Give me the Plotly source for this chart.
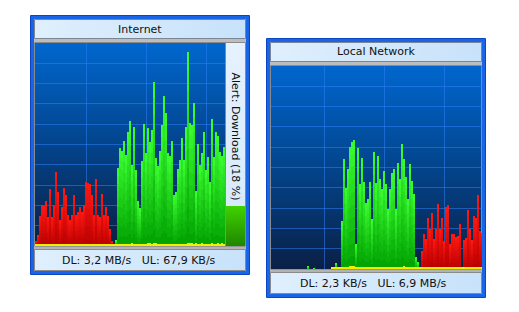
import base64
import plotly.graph_objects as go

# ---------------- data (bar heights, in plot pixels of a 203-px tall chart) -------------
# Internet widget: 95 columns
inet_red_start = 0
inet_red = [5, 11, 30, 41, 40, 45, 29, 57, 29, 41, 74, 54, 26, 39, 58, 51, 31, 26, 31, 51,
            31, 34, 39, 34, 41, 64, 63, 62, 51, 31, 67, 31, 29, 52, 31, 39, 30, 17, 5]
inet_green_start = 40
inet_green = [6, 78, 98, 95, 105, 91, 114, 125, 81, 119, 76, 45, 38, 85, 122, 93, 118, 104,
              116, 164, 88, 80, 95, 121, 150, 133, 93, 90, 105, 51, 54, 77, 86, 108, 86, 119,
              194, 123, 121, 143, 55, 102, 81, 93, 114, 76, 89, 64, 127, 89, 114, 110, 94, 90, 99]
inet_ul_start = 0
inet_ul = [1.5, 1.5, 1.5, 1.5, 1.5, 1.5, 1.5, 1.5, 1.5, 1.5,
           1.5, 1.5, 1.5, 1.5, 1.5, 1.5, 1.5, 1.5, 1.5, 1.5,
           1.5, 1.5, 1.5, 1.5, 1.5, 1.5, 1.5, 1.5, 1.5, 1.5,
           1.5, 1.5, 1.5, 1.5, 1.5, 1.5, 1.5, 1.5, 1.5, 1.5,
           1.5, 1.5, 1.5, 1.5, 1.5, 1.5, 1.5, 1.5, 3, 1.5,
           1.5, 1.5, 1.5, 1.5, 1.5, 1.5, 3, 3, 1.5, 3,
           3, 1.5, 1.5, 1.5, 1.5, 1.5, 1.5, 1.5, 1.5, 1.5,
           1.5, 1.5, 1.5, 1.5, 1.5, 1.5, 3, 3, 3, 1.5,
           3, 1.5, 1.5, 3, 1.5, 1.5, 1.5, 1.5, 3, 1.5,
           1.5, 3, 1.5, 3, 1.5]
inet_n = 95

# Local network widget: 106 columns
lan_green_start = 18
lan_green = [3, 0, 0, 1, 0, 0, 0, 0, 0, 0, 0, 0, 0, 0, 6, 0, 0,
             48, 110, 81, 100, 122, 127, 129, 25, 121, 85, 111, 87, 66, 70, 87, 50, 117, 86,
             113, 90, 80, 98, 85, 60, 80, 96, 100, 60, 106, 90, 125, 110, 92, 70, 105, 88,
             75, 12, 7, 2]
lan_red_start = 75
lan_red = [18, 35, 30, 51, 40, 56, 30, 40, 65, 40, 51, 28, 62, 64, 25, 35, 35, 32, 33, 45,
           2, 29, 31, 59, 40, 29, 53, 51, 74, 38, 36]
lan_ul_start = 30
lan_ul = [1.5, 1.5, 1.5, 1.5, 1.5, 1.5, 1.5, 1.5, 1.5, 3,
          3, 3, 1.5, 1.5, 1.5, 1.5, 1.5, 1.5, 1.5, 1.5,
          1.5, 1.5, 1.5, 1.5, 1.5, 1.5, 1.5, 1.5, 1.5, 1.5,
          1.5, 1.5, 1.5, 1.5, 1.5, 1.5, 3, 1.5, 1.5, 1.5,
          1.5, 1.5, 1.5, 1.5, 1.5, 1.5, 1.5, 1.5, 1.5, 1.5,
          1.5, 1.5, 1.5, 1.5, 1.5, 1.5, 1.5, 1.5, 1.5, 1.5,
          1.5, 1.5, 1.5, 1.5, 1.5, 1.5, 1.5, 1.5, 1.5, 1.5,
          1.5, 1.5, 1.5, 1.5, 1.5, 1.5]
lan_n = 106

titles = ["Internet", "Local Network"]
footers = ["DL: 3,2 MB/s\u00a0\u00a0\u00a0UL: 67,9 KB/s", "DL: 2,3 KB/s\u00a0\u00a0\u00a0UL: 6,9 MB/s"]
alert_text = "Alert: Download (18 %)"
alert_pct = 18

# ---------------- helpers ----------------
W, H = 519, 312
PLOT_H = 203.0


def fx(x):
    return x / W


def fy(y):
    return 1 - y / H


def mix(c1, c2, t):
    return "rgb(%d,%d,%d)" % tuple(round(a + (b - a) * t) for a, b in zip(c1, c2))


def grad_uri(stops, vertical=True):
    x2, y2 = ("0", "1") if vertical else ("1", "0")
    st = "".join('<stop offset="%s" stop-color="%s"/>' % (o, c) for o, c in stops)
    svg = ('<svg xmlns="http://www.w3.org/2000/svg" width="100" height="100" viewBox="0 0 100 100" '
           'preserveAspectRatio="none"><defs><linearGradient id="g" x1="0" y1="0" x2="%s" y2="%s">%s'
           '</linearGradient></defs><rect x="0" y="0" width="100" height="100" fill="url(#g)"/></svg>'
           % (x2, y2, st))
    return "data:image/svg+xml;base64," + base64.b64encode(svg.encode()).decode()


fig = go.Figure()

GREEN_LO, GREEN_HI = (0, 160, 0), (60, 255, 50)
RED_LO, RED_HI = (185, 0, 0), (255, 25, 20)
NB = 10


def add_series(vals, start, xa, ya, lo, hi):
    xs = list(range(start, start + len(vals)))
    for k in range(NB):
        col = mix(lo, hi, (k + 0.5) / NB)
        fig.add_trace(go.Bar(
            x=xs, y=[v / NB for v in vals], base=[v * k / NB for v in vals], width=1,
            marker=dict(color=col, line=dict(width=0)), xaxis=xa, yaxis=ya,
            hoverinfo="skip", showlegend=False))


def add_ul(vals, start, xa, ya):
    xs = list(range(start, start + len(vals)))
    fig.add_trace(go.Bar(x=xs, y=vals, base=[0] * len(vals), width=1,
                         marker=dict(color="#f4ee00", line=dict(width=0)),
                         xaxis=xa, yaxis=ya, hoverinfo="skip", showlegend=False))


add_series(inet_red, inet_red_start, "x", "y", RED_LO, RED_HI)
add_series(inet_green, inet_green_start, "x", "y", GREEN_LO, GREEN_HI)
add_ul(inet_ul, inet_ul_start, "x", "y")
add_series(lan_green, lan_green_start, "x2", "y2", GREEN_LO, GREEN_HI)
add_series(lan_red, lan_red_start, "x2", "y2", RED_LO, RED_HI)
add_ul(lan_ul, lan_ul_start, "x2", "y2")

# ---------------- widget chrome ----------------
shapes, images, annos = [], [], []
widgets = [(30, 15, True), (266, 38, False)]
footer_cx = [139, 373]

bg_stops = [("0", "#0067ce"), ("0.5", "#03448c"), ("1", "#0a2045")]
hdr_stops = [("0", "#dfeffd"), ("1", "#c7e2fa")]

for wi, (ox, oy, has_alert) in enumerate(widgets):
    def rect(x0, y0, x1, y1, **kw):
        d = dict(type="rect", xref="paper", yref="paper", layer="below",
                 x0=fx(ox + x0), x1=fx(ox + x1), y0=fy(oy + y0), y1=fy(oy + y1))
        d.update(kw)
        shapes.append(d)

    def img(x0, y0, x1, y1, uri):
        images.append(dict(source=uri, xref="paper", yref="paper", x=fx(ox + x0), y=fy(oy + y0),
                           sizex=(x1 - x0) / W, sizey=(y1 - y0) / H, xanchor="left",
                           yanchor="top", sizing="stretch", layer="below"))

    plot_r = 195 if has_alert else 216
    img(4, 4, 216, 24, grad_uri(hdr_stops, vertical=False))
    img(5, 28, plot_r, 231, grad_uri(bg_stops))
    if has_alert:
        img(196, 28, 216, 231, grad_uri([("0", "#e6f2fd"), ("1", "#d3e8fb")]))
        gh = PLOT_H * 0.197
        img(196, 231 - gh, 216, 231, grad_uri([("0", "#40d200"), ("1", "#1f8600")]))
    img(4, 234.5, 216, 256, grad_uri(hdr_stops, vertical=False))

    # frame
    rect(0.5, 0.5, 219.5, 259.5, line=dict(color="#0b45bf", width=1))
    rect(2.5, 2.5, 217.5, 257.5, line=dict(color="#1a64e8", width=3))
    # header outline & separators
    rect(4.5, 4.5, 215.5, 23.5, line=dict(color="#7b8594", width=1))
    rect(4, 24, 216, 27.5, fillcolor="#bdbdbd", line=dict(width=0))
    rect(4.5, 27.5, 215.5, 231.5, line=dict(color="#8a8a8a", width=1))
    if has_alert:
        rect(195.5, 28, 195.5, 231, line=dict(color="#8a8a8a", width=1))
    rect(4, 231.8, 216, 234.5, fillcolor="#b3b3b3", line=dict(width=0))
    rect(4.5, 234.5, 215.5, 255.5, line=dict(color="#8a8a8a", width=1))

    font = dict(family="DejaVu Sans", size=11, color="#111111")
    annos.append(dict(text=titles[wi], x=fx(ox + 110), y=fy(oy + 14), xref="paper", yref="paper",
                      showarrow=False, font=font, xanchor="center", yanchor="middle"))
    annos.append(dict(text=footers[wi], x=fx(footer_cx[wi]), y=fy(oy + 245.7), xref="paper",
                      yref="paper", showarrow=False, font=font, xanchor="center", yanchor="middle"))
    if has_alert:
        annos.append(dict(text=alert_text, x=fx(ox + 205.5), y=fy(136), xref="paper",
                          yref="paper", showarrow=False, font=font, textangle=90,
                          xanchor="center", yanchor="middle"))

grid = "rgba(45,125,245,0.55)"
axc = dict(showticklabels=False, ticks="", zeroline=False, showline=False, showgrid=True,
           gridcolor=grid, gridwidth=1, fixedrange=True)
ygrid = [PLOT_H - PLOT_H / 10 * k for k in range(1, 10)]

fig.update_layout(
    width=W, height=H, margin=dict(l=0, r=0, t=0, b=0), autosize=False,
    paper_bgcolor="white", plot_bgcolor="rgba(0,0,0,0)",
    barmode="overlay", bargap=0, showlegend=False,
    shapes=shapes, images=images, annotations=annos,
    xaxis=dict(domain=[fx(35), fx(225)], range=[-0.5, inet_n - 0.5], tickvals=[25, 55, 85],
               anchor="y", **axc),
    yaxis=dict(domain=[fy(246), fy(43)], range=[0, PLOT_H], tickvals=ygrid, anchor="x", **axc),
    xaxis2=dict(domain=[fx(271), fx(482)], range=[-0.5, lan_n - 1], tickvals=[26, 56, 86],
                anchor="y2", **axc),
    yaxis2=dict(domain=[fy(269), fy(66)], range=[0, PLOT_H], tickvals=ygrid, anchor="x2", **axc),
)

fig.write_html("out.html")
